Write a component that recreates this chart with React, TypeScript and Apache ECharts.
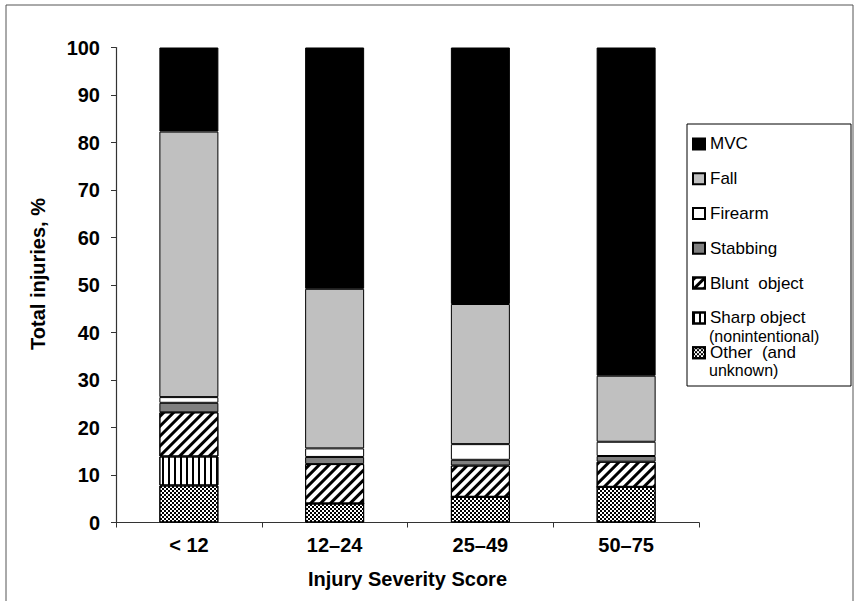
import React, { useEffect, useRef } from "react";
import * as echarts from "echarts";

const categories = ["< 12", "12\u201324", "25\u201349", "50\u201375"];
const yTicks = [0, 10, 20, 30, 40, 50, 60, 70, 80, 90, 100];

const otherVals = [7.8, 4.0, 5.4, 7.5];
const sharpVals = [6.1, 0, 0, 0];
const bluntVals = [9.3, 8.3, 6.6, 5.3];
const stabbingVals = [2.0, 1.5, 1.2, 1.2];
const firearmVals = [1.2, 1.8, 3.3, 3.0];
const fallVals = [55.9, 33.6, 29.5, 13.9];
const mvcVals = [17.7, 50.8, 54.0, 69.1];

const legendOrder = [
  "MVC",
  "Fall",
  "Firearm",
  "Stabbing",
  "Blunt object",
  "Sharp object (nonintentional)",
  "Other (and unknown)",
];
const legendFirstLine: Record<string, string> = {
  MVC: "MVC",
  Fall: "Fall",
  Firearm: "Firearm",
  Stabbing: "Stabbing",
  "Blunt object": "Blunt  object",
  "Sharp object (nonintentional)": "Sharp object",
  "Other (and unknown)": "Other  (and",
};

export default function App() {
  const ref = useRef<HTMLDivElement>(null);
  useEffect(() => {
    if (!ref.current) return;
    const chart = echarts.init(ref.current, undefined, { renderer: "svg" });
    const font = "'Liberation Sans', Arial, sans-serif";
    const base = {
      type: "bar",
      stack: "total",
      barWidth: 59,
      emphasis: { disabled: true },
    };
    const border = { borderColor: "#000", borderWidth: 1 };
    chart.setOption({
      animation: false,
      backgroundColor: "#fff",
      textStyle: { fontFamily: font },
      grid: { left: 116, right: 162, top: 47.5, bottom: 78.5, containLabel: false },
      xAxis: {
        type: "category",
        data: categories,
        name: "Injury Severity Score",
        nameLocation: "middle",
        nameGap: 46,
        nameTextStyle: { fontSize: 20, fontWeight: "bold", color: "#000", fontFamily: font },
        axisLine: { lineStyle: { color: "#333", width: 1.2 } },
        axisTick: { show: true, length: 5, lineStyle: { color: "#333" } },
        axisLabel: { fontSize: 20, fontWeight: "bold", color: "#000", margin: 12, fontFamily: font },
      },
      yAxis: {
        type: "value",
        min: 0,
        max: 100,
        interval: 10,
        name: "Total injuries, %",
        nameLocation: "middle",
        nameGap: 68,
        nameTextStyle: {
          fontSize: 20,
          fontWeight: "bold",
          color: "#000",
          fontFamily: font,
          padding: [0, 0, 0, 22],
        },
        splitLine: { show: false },
        axisLine: { show: true, lineStyle: { color: "#333", width: 1.2 } },
        axisTick: { show: true, length: 5, lineStyle: { color: "#333" } },
        axisLabel: {
          fontSize: 20,
          fontWeight: "bold",
          color: "#000",
          margin: 16,
          fontFamily: font,
          formatter: (v: number) => (yTicks.includes(v) ? String(v) : ""),
        },
      },
      legend: {
        orient: "vertical",
        left: 692,
        top: 135.4,
        padding: 0,
        itemWidth: 12,
        itemHeight: 11,
        itemGap: 17.8,
        selectedMode: false,
        icon: "rect",
        data: legendOrder,
        formatter: (n: string) => legendFirstLine[n] ?? n,
        textStyle: { fontSize: 17, color: "#000", fontFamily: font, lineHeight: 16 },
      },
      graphic: [
        {
          type: "rect",
          silent: true,
          shape: { x: 6, y: 5, width: 847, height: 600 },
          style: { fill: "none", stroke: "#555", lineWidth: 1 },
        },
        {
          type: "rect",
          silent: true,
          shape: { x: 687, y: 124, width: 164, height: 262 },
          style: { fill: "none", stroke: "#000", lineWidth: 1 },
        },
        {
          type: "text",
          silent: true,
          x: 709,
          y: 336,
          style: {
            text: "(nonintentional)",
            fontSize: 16,
            lineHeight: 15,
            fontFamily: font,
            fill: "#000",
            verticalAlign: "middle",
          },
        },
        {
          type: "text",
          silent: true,
          x: 709,
          y: 370,
          style: {
            text: "unknown)",
            fontSize: 16,
            lineHeight: 15,
            fontFamily: font,
            fill: "#000",
            verticalAlign: "middle",
          },
        },
      ],
      series: [
        {
          ...base,
          name: "Other (and unknown)",
          data: otherVals,
          itemStyle: {
            ...border,
            color: "#fff",
            decal: {
              symbol: "rect",
              symbolSize: 1,
              color: "#000",
              backgroundColor: "#fff",
              dashArrayX: [
                [2, 2],
                [0, 2, 2, 0],
              ],
              dashArrayY: [2, 0],
              rotation: 0,
            },
          },
        },
        {
          ...base,
          name: "Sharp object (nonintentional)",
          data: sharpVals,
          itemStyle: {
            ...border,
            color: "#fff",
            decal: {
              symbol: "rect",
              symbolSize: 1,
              color: "#000",
              backgroundColor: "#fff",
              dashArrayX: [1.4, 3.2],
              dashArrayY: [1, 0],
              rotation: 0,
            },
          },
        },
        {
          ...base,
          name: "Blunt object",
          data: bluntVals,
          itemStyle: {
            ...border,
            color: "#fff",
            decal: {
              symbol: "rect",
              symbolSize: 1,
              color: "#000",
              backgroundColor: "#fff",
              dashArrayX: [1, 0],
              dashArrayY: [2.6, 3.4],
              rotation: -Math.PI / 4,
            },
          },
        },
        {
          ...base,
          name: "Stabbing",
          data: stabbingVals,
          itemStyle: { ...border, color: "#808080" },
        },
        {
          ...base,
          name: "Firearm",
          data: firearmVals,
          itemStyle: { ...border, color: "#fff" },
        },
        {
          ...base,
          name: "Fall",
          data: fallVals,
          itemStyle: { ...border, color: "#c0c0c0" },
        },
        {
          ...base,
          name: "MVC",
          data: mvcVals,
          itemStyle: { ...border, color: "#000" },
        },
      ],
    });
    return () => chart.dispose();
  }, []);
  return (
    <div
      ref={ref}
      style={{ position: "fixed", left: 0, top: 0, width: 861, height: 601 }}
    />
  );
}
